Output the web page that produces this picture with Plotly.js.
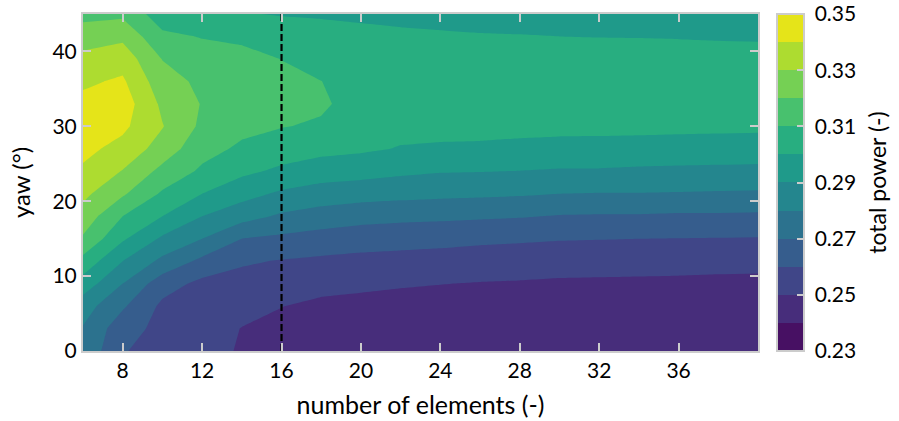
<!DOCTYPE html>
<html>
<head>
<meta charset="utf-8">
<script src="https://cdn.plot.ly/plotly-3.0.1.min.js"></script>
<style>
  html, body { margin: 0; padding: 0; background: #ffffff; }
  #chart { width: 899px; height: 421px; }
</style>
</head>
<body>
<div id="chart"></div>
<script>
// ---------------- data ----------------
const elements = [6, 8, 10, 12, 14, 16, 18, 20, 22, 24, 26, 28, 30, 32, 34, 36, 38, 40];
const yawDeg = [0, 3, 6, 9, 12, 15, 18, 21, 24, 27, 30, 33, 36, 39, 42, 45];

// total power, one row per yaw value, one column per number of elements
const totalPower = [
  [0.2780, 0.2605, 0.2570, 0.2530, 0.2492, 0.2460, 0.2445, 0.2438, 0.2436, 0.2434, 0.2432, 0.2430, 0.2428, 0.2427, 0.2426, 0.2425, 0.2424, 0.2423],
  [0.2793, 0.2640, 0.2572, 0.2536, 0.2498, 0.2475, 0.2455, 0.2448, 0.2446, 0.2444, 0.2442, 0.2440, 0.2437, 0.2436, 0.2434, 0.2433, 0.2432, 0.2431],
  [0.2845, 0.2714, 0.2580, 0.2553, 0.2527, 0.2502, 0.2480, 0.2474, 0.2470, 0.2466, 0.2463, 0.2460, 0.2457, 0.2455, 0.2453, 0.2451, 0.2449, 0.2448],
  [0.2957, 0.2800, 0.2644, 0.2575, 0.2566, 0.2548, 0.2529, 0.2518, 0.2508, 0.2502, 0.2496, 0.2492, 0.2486, 0.2484, 0.2482, 0.2480, 0.2477, 0.2475],
  [0.3067, 0.2900, 0.2775, 0.2675, 0.2612, 0.2594, 0.2582, 0.2573, 0.2567, 0.2561, 0.2553, 0.2549, 0.2543, 0.2541, 0.2539, 0.2537, 0.2533, 0.2531],
  [0.3187, 0.3014, 0.2883, 0.2800, 0.2700, 0.2679, 0.2659, 0.2643, 0.2636, 0.2629, 0.2619, 0.2613, 0.2606, 0.2603, 0.2600, 0.2598, 0.2596, 0.2594],
  [0.3260, 0.3100, 0.3000, 0.2900, 0.2839, 0.2785, 0.2757, 0.2736, 0.2726, 0.2721, 0.2714, 0.2707, 0.2694, 0.2691, 0.2691, 0.2685, 0.2685, 0.2682],
  [0.3324, 0.3214, 0.3086, 0.3000, 0.2935, 0.2884, 0.2855, 0.2841, 0.2831, 0.2822, 0.2817, 0.2811, 0.2800, 0.2796, 0.2796, 0.2793, 0.2789, 0.2786],
  [0.3384, 0.3295, 0.3171, 0.3083, 0.3021, 0.2981, 0.2950, 0.2938, 0.2919, 0.2906, 0.2903, 0.2898, 0.2891, 0.2891, 0.2885, 0.2882, 0.2879, 0.2876],
  [0.3427, 0.3367, 0.3257, 0.3135, 0.3083, 0.3048, 0.3027, 0.3015, 0.2995, 0.2989, 0.2984, 0.2973, 0.2963, 0.2961, 0.2957, 0.2953, 0.2952, 0.2949],
  [0.3465, 0.3421, 0.3305, 0.3180, 0.3125, 0.3104, 0.3088, 0.3045, 0.3025, 0.3025, 0.3030, 0.3030, 0.3030, 0.3030, 0.3028, 0.3025, 0.3022, 0.3020],
  [0.3427, 0.3453, 0.3280, 0.3195, 0.3162, 0.3135, 0.3114, 0.3063, 0.3053, 0.3052, 0.3050, 0.3052, 0.3055, 0.3056, 0.3055, 0.3055, 0.3053, 0.3052],
  [0.3383, 0.3415, 0.3239, 0.3180, 0.3165, 0.3132, 0.3101, 0.3060, 0.3060, 0.3060, 0.3060, 0.3060, 0.3062, 0.3063, 0.3063, 0.3063, 0.3062, 0.3061],
  [0.3326, 0.3358, 0.3197, 0.3145, 0.3135, 0.3098, 0.3065, 0.3045, 0.3045, 0.3045, 0.3043, 0.3042, 0.3040, 0.3040, 0.3038, 0.3037, 0.3034, 0.3032],
  [0.3254, 0.3277, 0.3121, 0.3095, 0.3078, 0.3045, 0.3028, 0.3022, 0.3014, 0.3009, 0.3005, 0.3003, 0.3000, 0.2998, 0.2997, 0.2995, 0.2992, 0.2990],
  [0.3169, 0.3180, 0.3044, 0.3012, 0.3005, 0.2995, 0.2992, 0.2985, 0.2980, 0.2977, 0.2973, 0.2971, 0.2968, 0.2967, 0.2966, 0.2965, 0.2963, 0.2962]
];

// contour levels and colour bar ticks
const levelStart = 0.23;
const levelEnd = 0.35;
const levelStep = 0.01;
const colorbarTicks = [0.23, 0.25, 0.27, 0.29, 0.31, 0.33, 0.35];
const xTicks = [8, 12, 16, 20, 24, 28, 32, 36];
const yTicks = [0, 10, 20, 30, 40];

// chosen design: 16 elements
const markedElements = [16];

// ---------------- styles ----------------
const bandColors = ['#471063', '#472d7b', '#404688', '#365d8d', '#2c728e', '#24868e',
                    '#1f9a8a', '#28ae80', '#48c16e', '#75d054', '#addc30', '#e5e419'];
const FONT = 'Lato, "Open Sans", sans-serif';
const GRAY = '#cccccc';
const TICKFONT = { family: FONT, size: 21, color: '#000000' };
const PAD = '<span style="color:#ffffff">.</span>';

// colour scale for the contour fills (plotly samples each band at (k+1)/(n+1))
const nBands = bandColors.length;
const contourScale = [[0, bandColors[0]]];
for (let k = 0; k < nBands; k++) contourScale.push([(k + 1) / (nBands + 1), bandColors[k]]);
contourScale.push([1, bandColors[nBands - 1]]);

// stepped colour scale for the colour bar
const stepScale = [];
for (let k = 0; k < nBands; k++) {
  stepScale.push([k / nBands, bandColors[k]]);
  stepScale.push([(k + 1) / nBands, bandColors[k]]);
}

const contourTrace = {
  type: 'contour',
  x: elements,
  y: yawDeg,
  z: totalPower,
  colorscale: contourScale,
  autocontour: false,
  contours: { start: levelStart, end: levelEnd, size: levelStep, coloring: 'fill', showlines: false },
  line: { width: 0, smoothing: 0 },
  showscale: false,
  hoverinfo: 'skip'
};

const markerLine = {
  type: 'scatter',
  mode: 'lines',
  x: [markedElements[0], markedElements[0]],
  y: [yawDeg[0], yawDeg[yawDeg.length - 1]],
  line: { color: '#000000', width: 2.2, dash: '7px,3px' },
  hoverinfo: 'skip',
  showlegend: false
};

const colorbarTrace = {
  type: 'scatter',
  mode: 'markers',
  x: [elements[0]],
  y: [yawDeg[0]],
  marker: {
    size: 0.1,
    opacity: 0,
    color: [levelStart],
    cmin: levelStart,
    cmax: levelEnd,
    colorscale: stepScale,
    showscale: true,
    colorbar: {
      x: 1.0288, xanchor: 'left', xref: 'paper',
      y: 0.5, yanchor: 'middle', len: 1, lenmode: 'fraction',
      thickness: 27, thicknessmode: 'pixels',
      outlinewidth: 2, outlinecolor: GRAY,
      xpad: 0, ypad: 0,
      tickmode: 'array', tickvals: colorbarTicks,
      ticktext: colorbarTicks.map(v => PAD + v.toFixed(2) + PAD),
      ticks: 'inside', ticklen: 8, tickwidth: 2, tickcolor: GRAY,
      tickfont: TICKFONT,
      title: { text: 'total power (-)', side: 'right', font: { family: FONT, size: 23, color: '#000000' } }
    }
  },
  hoverinfo: 'skip',
  showlegend: false
};

const axisCommon = {
  ticks: 'inside', ticklen: 8, tickwidth: 2, tickcolor: GRAY,
  showline: true, linecolor: GRAY, linewidth: 2, mirror: 'ticks',
  showgrid: false, zeroline: false,
  tickfont: TICKFONT
};

const layout = {
  width: 899, height: 421,
  margin: { l: 83, r: 141, t: 14, b: 70, pad: 0, autoexpand: false },
  paper_bgcolor: '#ffffff', plot_bgcolor: '#ffffff',
  showlegend: false,
  font: { family: FONT, size: 21, color: '#000000' },
  xaxis: Object.assign({}, axisCommon, {
    range: [elements[0], elements[elements.length - 1]],
    tickmode: 'array', tickvals: xTicks,
    title: { text: 'number of elements (-)', font: { family: FONT, size: 25, color: '#000000' }, standoff: 15 }
  }),
  yaxis: Object.assign({}, axisCommon, {
    range: [yawDeg[0], yawDeg[yawDeg.length - 1]],
    tickmode: 'array', tickvals: yTicks,
    title: { text: 'yaw (°)', font: { family: FONT, size: 24, color: '#000000' }, standoff: 15 }
  })
};

Plotly.newPlot('chart', [contourTrace, markerLine, colorbarTrace], layout, { displayModeBar: false, staticPlot: true });
</script>
</body>
</html>
